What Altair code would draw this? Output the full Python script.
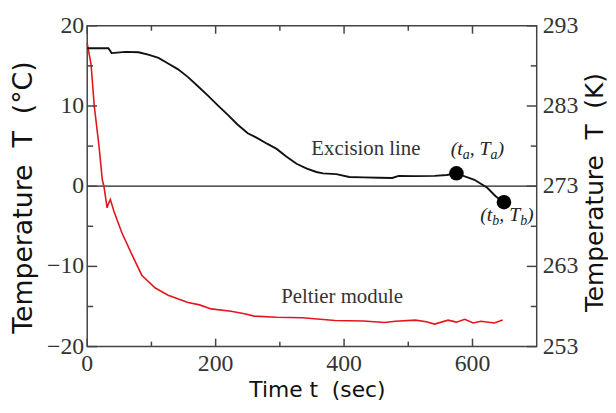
import altair as alt
import pandas as pd

# ---- data ----
excision_t = [0, 33, 38, 60, 80, 95, 111, 126, 141, 157, 172, 188, 203, 219, 234, 250,
              265, 280, 295, 310, 326, 342, 357, 367, 388, 408, 430, 455, 475, 485, 510,
              541, 560, 575, 603, 623, 636, 649]
excision_T = [17.2, 17.2, 16.6, 16.75, 16.7, 16.4, 16.0, 15.3, 14.6, 13.6, 12.5, 11.3, 10.1,
              8.9, 7.7, 6.6, 6.0, 5.3, 4.65, 3.7, 2.8, 2.2, 1.77, 1.6, 1.5, 1.15, 1.1, 1.05,
              1.03, 1.28, 1.25, 1.28, 1.4, 1.6, 0.8, -0.2, -1.25, -2.0]

peltier_t = [0, 6, 11, 18.5, 23.5, 26, 31, 33, 36, 41.5, 46, 54, 70, 85, 106, 126, 157, 175,
             193, 224, 245, 260, 295, 335, 386, 430, 463, 480, 511, 528, 541, 562, 575, 588,
             601, 613, 634, 647]
peltier_T = [17.8, 15.2, 10.0, 4.9, 0.8, 0.0, -2.7, -2.2, -1.65, -3.1, -4.1, -5.8, -8.6, -11.1,
             -12.7, -13.6, -14.5, -14.8, -15.3, -15.6, -15.9, -16.2, -16.35, -16.4, -16.75,
             -16.8, -17.0, -16.85, -16.7, -16.9, -17.2, -16.7, -16.95, -16.6, -17.05, -16.85,
             -17.05, -16.7]

points_t = [575, 649]
points_T = [1.6, -2.0]

series_labels = ["Excision line", "Peltier module"]
series_label_t = [434, 397]
series_label_T = [3.9, -14.6]

ann_sub = ["a", "b"]
ann_t = [566, 612]
ann_T = [3.9, -4.4]

x_major = [0, 200, 400, 600]
x_minor = [100, 300, 500]
c_major = [-20, -10, 0, 10, 20]
c_minor = [-15, -5, 5, 15]
k_major = [253, 263, 273, 283, 293]
k_minor = [258, 268, 278, 288]
zero_line = [0]

# ---- styling ----
W, H = 454, 324
SERIF = "Liberation Serif"
SANS = "DejaVu Sans"
FRAME = "#444444"
LABEL_COLOR = "#333333"
LABEL_SIZE = 24

xscale = alt.Scale(domain=[0, 700], nice=False, zero=False)
cscale = alt.Scale(domain=[-20, 20], nice=False, zero=False)
kscale = alt.Scale(domain=[253, 293], nice=False, zero=False)

common_axis = dict(ticks=False, domain=False, grid=False, labels=False,
                   titleFont=SANS, titleFontWeight="normal", titleColor="#111111",
                   titleAlign="center", titleBaseline="alphabetic")

xaxis = alt.Axis(values=x_major, title="Time t\u00a0\u00a0(sec)", titleFontSize=22,
                 titleX=232, titleY=50, **common_axis)
caxis = alt.Axis(values=c_major, title="Temperature\u00a0 T\u00a0 (°C)", titleFontSize=27,
                 titleAngle=270, titleX=-56, titleY=173, **common_axis)
kaxis = alt.Axis(orient="right", values=k_major, title="Temperature\u00a0 T\u00a0 (K)",
                 titleFontSize=25, titleAngle=270, titleX=66, titleY=168, **common_axis)

X = alt.X("t:Q", scale=xscale, axis=xaxis)
Y = alt.Y("T:Q", scale=cscale, axis=caxis)
KY = alt.Y("K:Q", scale=kscale, axis=kaxis)

df_ex = pd.DataFrame({"t": excision_t, "T": excision_T})
df_pe = pd.DataFrame({"t": peltier_t, "T": peltier_T})
df_pts = pd.DataFrame({"t": points_t, "T": points_T})
df_lab = pd.DataFrame({"t": series_label_t, "T": series_label_T, "label": series_labels})

ex_line = alt.Chart(df_ex).mark_line(color="#111111", strokeWidth=1.9).encode(x=X, y=Y)
pe_line = alt.Chart(df_pe).mark_line(color="#e3161e", strokeWidth=1.6).encode(x=X, y=Y)
zero = alt.Chart(pd.DataFrame({"T": zero_line})).mark_rule(
    color="#222222", strokeWidth=1.3).encode(y=Y)
pts = alt.Chart(df_pts).mark_circle(color="#000000", size=215, opacity=1).encode(x=X, y=Y)
labels = alt.Chart(df_lab).mark_text(
    font=SERIF, fontSize=21, color="#333333", align="center", baseline="alphabetic"
).encode(x=X, y=Y, text="label:N")

# subscripted annotations: (t_a, T_a), (t_b, T_b)
MAIN, SUB = 20, 14
ann_layers = []
for i, sub in enumerate(ann_sub):
    pieces = [("(t", False, 0.333 + 0.278), (sub, True, 0.5), (", T", False, 0.25 + 0.25 + 0.556),
              (sub, True, 0.5), (")", False, 0.333)]
    dx = 0.0
    for txt, is_sub, w in pieces:
        fs = SUB if is_sub else MAIN
        d = pd.DataFrame({"t": [ann_t[i]], "T": [ann_T[i]], "txt": [txt]})
        ann_layers.append(
            alt.Chart(d).mark_text(font=SERIF, fontStyle="italic", fontSize=fs, color="#222222",
                                   align="left", baseline="alphabetic", dx=dx,
                                   dy=4 if is_sub else 0)
            .encode(x=X, y=Y, text="txt:N"))
        dx += w * fs

# tick labels (serif), placed through the scales
x_lab = alt.Chart(pd.DataFrame({"t": x_major})).mark_text(
    font=SERIF, fontSize=LABEL_SIZE, color=LABEL_COLOR, align="center", baseline="top"
).encode(x=X, y=alt.value(H + 6), text=alt.Text("t:Q", format="d"))
c_lab = alt.Chart(pd.DataFrame({"T": c_major})).mark_text(
    font=SERIF, fontSize=LABEL_SIZE, color=LABEL_COLOR, align="right", baseline="middle"
).encode(y=Y, x=alt.value(-3), text=alt.Text("T:Q", format="d"))
k_lab = alt.Chart(pd.DataFrame({"K": k_major})).mark_text(
    font=SERIF, fontSize=LABEL_SIZE, color=LABEL_COLOR, align="left", baseline="middle"
).encode(y=KY, x=alt.value(W + 6), text=alt.Text("K:Q", format="d"))

# inward ticks
def ctick(vals, length):
    return alt.Chart(pd.DataFrame({"T": vals})).mark_rule(color=FRAME, strokeWidth=1.5).encode(
        y=Y, x=alt.value(0), x2=alt.value(length))

def xtick(vals, length, top):
    y0 = 0 if top else H
    y1 = length if top else H - length
    return alt.Chart(pd.DataFrame({"t": vals})).mark_rule(color=FRAME, strokeWidth=1.5).encode(
        x=X, y=alt.value(y0), y2=alt.value(y1))

def ktick(vals, length):
    return alt.Chart(pd.DataFrame({"K": vals})).mark_rule(color=FRAME, strokeWidth=1.5).encode(
        y=KY, x=alt.value(W), x2=alt.value(W - length))

left = alt.layer(
    zero, pe_line, ex_line, pts, labels, *ann_layers,
    ctick(c_major, 10), ctick(c_minor, 6),
    xtick(x_major, 8, False), xtick(x_minor, 5, False),
    xtick(x_major, 8, True), xtick(x_minor, 5, True),
    x_lab, c_lab,
)
right = alt.layer(ktick(k_major, 10), ktick(k_minor, 6), k_lab)

chart = (
    alt.layer(left, right)
    .resolve_scale(y="independent")
    .properties(width=W, height=H, autosize=alt.AutoSizeParams(type="none"),
                padding={"left": 80, "top": 16, "right": 72, "bottom": 55},
                background="white")
    .configure_view(stroke=FRAME, strokeWidth=1.5)
)

chart.save("out.html", embed_options={"renderer": "svg", "actions": False})
